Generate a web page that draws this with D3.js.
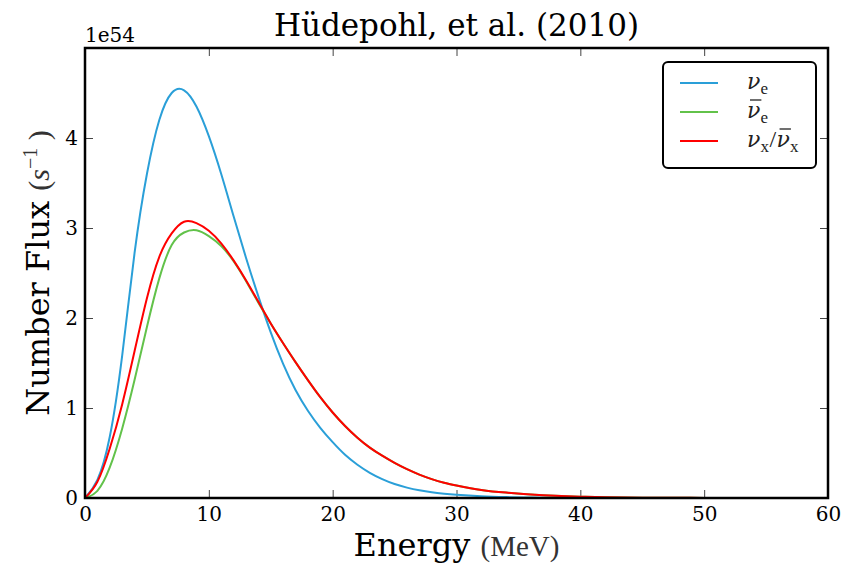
<!DOCTYPE html>
<html>
<head>
<meta charset="utf-8">
<script src="https://cdn.jsdelivr.net/npm/d3@7"></script>
<style>
  body { margin: 0; background: #fff; }
  svg { display: block; }
  .tick text { font-family: "DejaVu Serif", serif; font-size: 20px; fill: #000; }
  .tick line { stroke: #444; stroke-width: 1; }
  .domain { display: none; }
</style>
</head>
<body>
<svg id="chart" width="848" height="565"></svg>
<script>
// energy grid (MeV)
const energies = [0, 1, 2, 3, 4, 5, 6, 7, 8, 9, 10, 11, 12, 13, 14, 15, 16, 17, 18, 19, 20,
  21, 22, 23, 24, 25, 26, 27, 28, 29, 30, 32, 34, 36, 38, 40, 42, 45, 50, 55, 60];

// number flux, units of 1e54 s^-1
const nuE = [0, 0.20, 0.68, 1.58, 2.72, 3.60, 4.20, 4.50, 4.53, 4.35, 4.02, 3.60, 3.13, 2.67, 2.24,
  1.84, 1.49, 1.20, 0.97, 0.78, 0.62, 0.48, 0.37, 0.28, 0.21, 0.155, 0.115, 0.085, 0.063, 0.047, 0.035,
  0.019, 0.010, 0.005, 0.0025, 0.001, 0, 0, 0, 0, 0];
const nuEbar = [0, 0.08, 0.34, 0.77, 1.31, 1.90, 2.44, 2.81, 2.95, 2.975, 2.91, 2.80, 2.63, 2.41, 2.17,
  1.94, 1.72, 1.51, 1.31, 1.12, 0.95, 0.80, 0.67, 0.56, 0.47, 0.39, 0.32, 0.26, 0.21, 0.17, 0.14,
  0.09, 0.06, 0.04, 0.025, 0.015, 0.009, 0.004, 0.001, 0, 0];
const nuX = [0, 0.18, 0.55, 1.04, 1.63, 2.22, 2.68, 2.94, 3.07, 3.055, 2.97, 2.83, 2.64, 2.42, 2.18,
  1.94, 1.72, 1.51, 1.31, 1.12, 0.95, 0.80, 0.67, 0.56, 0.47, 0.39, 0.32, 0.26, 0.21, 0.17, 0.14,
  0.09, 0.06, 0.04, 0.025, 0.015, 0.009, 0.004, 0.001, 0, 0];

const xTicks = [0, 10, 20, 30, 40, 50, 60];
const yTicks = [0, 1, 2, 3, 4];

const series = [
  { key: "nue", values: nuE, color: "#2a9fd8" },
  { key: "nuebar", values: nuEbar, color: "#62c24a" },
  { key: "nux", values: nuX, color: "#ff0000" }
];

const W = 848, H = 565;
const margin = { top: 48, right: 20, bottom: 67, left: 85 };
const iw = W - margin.left - margin.right;
const ih = H - margin.top - margin.bottom;

const svg = d3.select("#chart");
const g = svg.append("g").attr("transform", `translate(${margin.left},${margin.top})`);

const x = d3.scaleLinear().domain([0, 60]).range([0, iw]);
const y = d3.scaleLinear().domain([0, 5]).range([ih, 0]);

// axes, ticks pointing inward on all four sides
g.append("g").attr("transform", `translate(0,${ih})`)
  .call(d3.axisBottom(x).tickValues(xTicks).tickSize(-8).tickPadding(9));
g.append("g")
  .call(d3.axisTop(x).tickValues(xTicks).tickSize(-8).tickFormat(""));
g.append("g")
  .call(d3.axisLeft(y).tickValues(yTicks).tickSize(-8).tickPadding(7).tickFormat(d3.format("d")));
g.append("g").attr("transform", `translate(${iw},0)`)
  .call(d3.axisRight(y).tickValues(yTicks).tickSize(-8).tickFormat(""));

const line = d3.line()
  .x((d, i) => x(energies[i]))
  .y(d => y(d))
  .curve(d3.curveNatural);

svg.append("clipPath").attr("id", "clip")
  .append("rect").attr("width", iw).attr("height", ih);

series.forEach((s) => {
  g.append("path")
    .datum(s.values)
    .attr("clip-path", "url(#clip)")
    .attr("d", line)
    .attr("fill", "none")
    .attr("stroke", s.color)
    .attr("stroke-width", 2);
});

// frame
g.append("rect")
  .attr("width", iw).attr("height", ih)
  .attr("fill", "none").attr("stroke", "#000").attr("stroke-width", 2.5);

// offset text
g.append("text")
  .attr("x", 0).attr("y", -6)
  .attr("font-family", "DejaVu Serif").attr("font-size", 20)
  .text("1e54");

// title
svg.append("text")
  .attr("x", margin.left + iw / 2).attr("y", 36)
  .attr("text-anchor", "middle")
  .attr("font-family", "DejaVu Serif").attr("font-size", 31)
  .text("Hüdepohl, et al. (2010)");

// x label
const xl = svg.append("text")
  .attr("x", margin.left + iw / 2).attr("y", 556)
  .attr("text-anchor", "middle")
  .attr("font-family", "DejaVu Serif").attr("font-size", 32);
xl.append("tspan").text("Energy ");
xl.append("tspan").attr("font-family", "Liberation Serif").attr("font-size", 29).attr("fill", "#333").text("(MeV)");

// y label
const yl = svg.append("text")
  .attr("transform", `translate(49,${margin.top + ih / 2}) rotate(-90)`)
  .attr("text-anchor", "middle")
  .attr("font-family", "DejaVu Serif").attr("font-size", 32);
yl.append("tspan").text("Number Flux ");
yl.append("tspan").attr("font-family", "Liberation Serif").attr("font-size", 30).attr("fill", "#333").text("(");
yl.append("tspan").attr("font-family", "Liberation Serif").attr("font-style", "italic").attr("font-size", 30).attr("fill", "#333").text("s");
yl.append("tspan").attr("font-family", "Liberation Serif").attr("font-size", 20).attr("fill", "#333").attr("dy", -12).text("−1");
yl.append("tspan").attr("font-family", "Liberation Serif").attr("font-size", 30).attr("fill", "#333").attr("dy", 12).text(" )");

// legend
const legend = svg.append("g").attr("transform", "translate(663,62)");
legend.append("rect")
  .attr("width", 153).attr("height", 106).attr("rx", 5)
  .attr("fill", "#fff").attr("stroke", "#000").attr("stroke-width", 2);

const labels = [
  [{ t: "ν", it: true }, { t: "e", sub: true }],
  [{ t: "ν", it: true, over: true }, { t: "e", sub: true }],
  [{ t: "ν", it: true }, { t: "x", sub: true }, { t: "/" }, { t: "ν", it: true, over: true }, { t: "x", sub: true }]
];

series.forEach((s, i) => {
  const ly = 21 + i * 29;
  legend.append("line")
    .attr("x1", 17).attr("x2", 55).attr("y1", ly).attr("y2", ly)
    .attr("stroke", s.color).attr("stroke-width", 2);
  // lay the pieces out one after another, measuring each
  let cx = 84;
  labels[i].forEach((p) => {
    const t = legend.append("text")
      .attr("x", cx)
      .attr("y", p.sub ? ly + 11 : ly + 6)
      .attr("font-family", p.it ? "DejaVu Serif" : "Liberation Serif")
      .attr("font-style", p.it ? "italic" : "normal")
      .attr("font-size", p.sub ? 17 : (p.it ? 22 : 24))
      .attr("fill", "#222")
      .text(p.t);
    const w = t.node().getComputedTextLength();
    if (p.over) {
      legend.append("line")
        .attr("x1", cx + 3).attr("x2", cx + w + 1)
        .attr("y1", ly - 12).attr("y2", ly - 12)
        .attr("stroke", "#222").attr("stroke-width", 1.3);
    }
    cx += w + (p.it ? 0 : 0.5);
  });
});
</script>
</body>
</html>
